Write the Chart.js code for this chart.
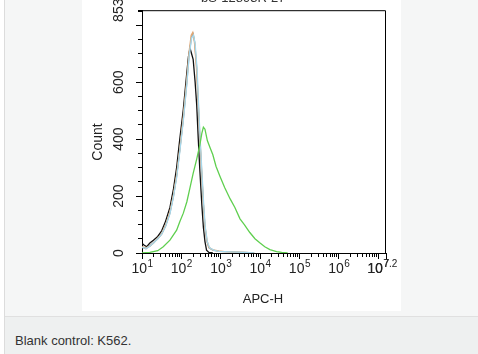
<!DOCTYPE html>
<html>
<head>
    <meta charset="UTF-8">
    <title>flowHistogram</title>
    <script src="https://cdn.jsdelivr.net/npm/chart.js"></script>
    <style>
        body { margin: 0; background: #fff; font-family: "Liberation Sans", Arial, sans-serif; }
        .box { position: absolute; left: 4px; top: 0; width: 500px; height: 354px; border-left: 1px solid #dcdcdc; background: #f5f6f6; }
        .img { position: absolute; left: 77px; top: 0; width: 319px; height: 311px; background: #fff; }
        .caption { position: absolute; left: 0; top: 316px; width: 500px; height: 38px; border-top: 1px solid #e0e0e0; background: #eef0f0; }
        .caption span { position: absolute; left: 10px; top: 16px; font-size: 13px; color: #333; }
    </style>
</head>
<body>
    <div class="box">
        <div class="img"><canvas id="histChart" width="319" height="311"></canvas></div>
        <div class="caption"><span>Blank control: K562.</span></div>
    </div>

    <script>
        // x values are log10(APC-H), y values are counts
        var blackX = [1.00, 1.05, 1.12, 1.20, 1.29, 1.40, 1.50, 1.60, 1.71, 1.80, 1.88, 1.96, 2.05, 2.14, 2.18, 2.22, 2.26, 2.30, 2.35, 2.39, 2.43, 2.47, 2.52, 2.56, 2.60, 2.64, 2.70, 2.80];
        var blackY = [34, 28, 22, 35, 45, 58, 78, 112, 160, 225, 300, 400, 505, 635, 690, 720, 700, 680, 600, 520, 400, 290, 170, 90, 40, 10, 2, 0];

        var grayX = [1.00, 1.10, 1.20, 1.30, 1.40, 1.50, 1.60, 1.71, 1.80, 1.88, 1.96, 2.05, 2.14, 2.20, 2.26, 2.30, 2.34, 2.39, 2.43, 2.47, 2.52, 2.56, 2.60, 2.65, 2.70, 2.80, 2.95, 3.10, 3.25, 3.40, 3.60, 3.85];
        var grayY = [20, 15, 25, 38, 50, 66, 95, 140, 200, 270, 360, 470, 600, 700, 760, 770, 740, 650, 520, 400, 270, 170, 90, 40, 18, 10, 6, 5, 4, 3, 2, 0];

        var orangeX = [1.00, 1.10, 1.20, 1.30, 1.40, 1.50, 1.60, 1.71, 1.80, 1.88, 1.96, 2.05, 2.14, 2.20, 2.25, 2.29, 2.33, 2.38, 2.43, 2.47, 2.52, 2.56, 2.60, 2.65, 2.70, 2.80, 2.95, 3.10, 3.25, 3.40, 3.60, 3.85];
        var orangeY = [22, 18, 24, 36, 52, 68, 98, 145, 205, 275, 365, 480, 610, 710, 765, 775, 745, 660, 530, 410, 280, 175, 95, 45, 20, 11, 7, 5, 4, 3, 2, 0];

        var blueX = [1.00, 1.10, 1.20, 1.30, 1.40, 1.50, 1.60, 1.71, 1.80, 1.88, 1.96, 2.05, 2.14, 2.20, 2.26, 2.31, 2.35, 2.40, 2.44, 2.48, 2.53, 2.57, 2.61, 2.66, 2.72, 2.82, 2.95, 3.10, 3.25, 3.40, 3.60, 3.85];
        var blueY = [20, 16, 24, 36, 50, 66, 94, 138, 198, 265, 355, 465, 595, 695, 755, 765, 735, 645, 515, 395, 265, 165, 88, 40, 18, 10, 6, 5, 4, 3, 2, 0];

        var greenX = [1.00, 1.20, 1.40, 1.54, 1.71, 1.88, 1.96, 2.05, 2.14, 2.22, 2.30, 2.39, 2.47, 2.52, 2.56, 2.60, 2.66, 2.73, 2.80, 2.88, 2.98, 3.10, 3.24, 3.36, 3.49, 3.60, 3.74, 3.87, 4.00, 4.12, 4.25, 4.42, 4.55, 4.70];
        var greenY = [0, 2, 8, 22, 45, 80, 110, 140, 180, 230, 280, 330, 380, 420, 442, 435, 395, 370, 345, 305, 270, 230, 190, 160, 120, 100, 72, 50, 35, 22, 12, 5, 2, 0];

        var xMajorTicks = [1, 2, 3, 4, 5, 6, 7, 7.2];
        var xTickExp = ['1', '2', '3', '4', '5', '6', '7', '7.2'];
        var yTickValues = [0, 200, 400, 600, 853];

        function points(xs, ys) {
            var out = [];
            for (var i = 0; i < xs.length; i++) out.push({ x: xs[i], y: ys[i] });
            return out;
        }

        function line(label, xs, ys, color) {
            return {
                label: label,
                data: points(xs, ys),
                showLine: true,
                borderColor: color,
                borderWidth: 1.3,
                pointRadius: 0,
                fill: false,
                tension: 0
            };
        }

        function isXMajor(v) {
            return xMajorTicks.indexOf(v) >= 0;
        }

        var labelsPlugin = {
            id: 'labelsPlugin',
            afterDraw: function (chart) {
                var c = chart.ctx;
                var area = chart.chartArea;
                var xs = chart.scales.x, ys = chart.scales.y;
                c.save();
                // frame on top and right
                c.strokeStyle = '#000';
                c.lineWidth = 1;
                c.beginPath();
                c.moveTo(area.left, area.top + 0.5);
                c.lineTo(area.right - 0.5, area.top + 0.5);
                c.lineTo(area.right - 0.5, area.bottom);
                c.stroke();

                c.fillStyle = '#222';
                // x tick labels, 10 with superscript
                for (var i = 0; i < xMajorTicks.length; i++) {
                    var px = xs.getPixelForValue(xMajorTicks[i]);
                    c.font = '14px "Liberation Sans", Arial';
                    var w1 = c.measureText('10').width;
                    c.font = '10px "Liberation Sans", Arial';
                    var w2 = c.measureText(xTickExp[i]).width;
                    var start = px - (w1 + w2) / 2;
                    if (i == xMajorTicks.length - 1) start -= 4;
                    c.textAlign = 'left';
                    c.textBaseline = 'alphabetic';
                    c.font = '14px "Liberation Sans", Arial';
                    c.fillText('10', start, 273);
                    c.font = '10px "Liberation Sans", Arial';
                    c.fillText(xTickExp[i], start + w1 + 0.5, 267);
                }

                // y tick labels, rotated
                c.font = '14px "Liberation Sans", Arial';
                c.textAlign = 'center';
                c.textBaseline = 'middle';
                for (var j = 0; j < yTickValues.length; j++) {
                    var py = ys.getPixelForValue(yTickValues[j]);
                    c.save();
                    c.translate(37.5, py);
                    c.rotate(-Math.PI / 2);
                    c.fillText(String(yTickValues[j]), 0, 0);
                    c.restore();
                }

                // axis titles
                c.save();
                c.translate(16, 142);
                c.rotate(-Math.PI / 2);
                c.fillText('Count', 0, 0);
                c.restore();
                c.font = '13px "Liberation Sans", Arial';
                c.textBaseline = 'alphabetic';
                c.fillText('APC-H', 181, 303);

                // title, mostly cut off at the top edge
                c.textAlign = 'left';
                c.fillStyle = '#333';
                c.font = '13px "Liberation Sans", Arial';
                c.fillText('bS-12893R-27', 119, 2);
                c.fillStyle = '#66cc33';
                c.fillText('\u2022\u2022', 222, 2);
                c.restore();
            }
        };

        var ctx = document.getElementById('histChart').getContext('2d');
        var histChart = new Chart(ctx, {
            type: 'scatter',
            data: {
                datasets: [
                    line('Green', greenX, greenY, '#5fcf4f'),
                    line('Blue', blueX, blueY, '#a6d8ec'),
                    line('Orange', orangeX, orangeY, '#e2a672'),
                    line('Gray', grayX, grayY, '#959595'),
                    line('Black', blackX, blackY, '#111111')
                ]
            },
            options: {
                responsive: false,
                animation: false,
                layout: { padding: { top: 8, right: 15, left: 0, bottom: 0 } },
                plugins: {
                    legend: { display: false },
                    tooltip: { enabled: false }
                },
                scales: {
                    x: {
                        type: 'linear',
                        min: 1,
                        max: 7.2,
                        afterBuildTicks: function (scale) {
                            var t = [];
                            for (var d = 1; d <= 7; d++) {
                                t.push({ value: d });
                                if (d < 7) {
                                    for (var k = 2; k <= 9; k++) t.push({ value: d + Math.log10(k) });
                                }
                            }
                            t.push({ value: 7.2 });
                            scale.ticks = t;
                        },
                        afterFit: function (scale) { scale.height = 58; },
                        ticks: { autoSkip: false, callback: function () { return ''; } },
                        grid: {
                            drawOnChartArea: false,
                            tickLength: 6,
                            tickColor: '#000',
                            tickWidth: 1,
                            tickBorderDash: function (c) {
                                return isXMajor(c.tick.value) ? [] : [3, 20];
                            }
                        },
                        border: { color: '#000', width: 1 }
                    },
                    y: {
                        min: 0,
                        max: 853,
                        afterBuildTicks: function (scale) {
                            var t = [];
                            for (var v = 0; v <= 850; v += 50) t.push({ value: v });
                            t.push({ value: 853 });
                            scale.ticks = t;
                        },
                        afterFit: function (scale) { scale.width = 60; },
                        ticks: { autoSkip: false, callback: function () { return ''; } },
                        grid: {
                            drawOnChartArea: false,
                            tickLength: 6,
                            tickColor: '#000',
                            tickWidth: 1,
                            tickBorderDash: function (c) {
                                return c.tick.value % 200 === 0 ? [] : [0, 2, 10];
                            }
                        },
                        border: { color: '#000', width: 1 }
                    }
                }
            },
            plugins: [labelsPlugin]
        });
    </script>
</body>
</html>
